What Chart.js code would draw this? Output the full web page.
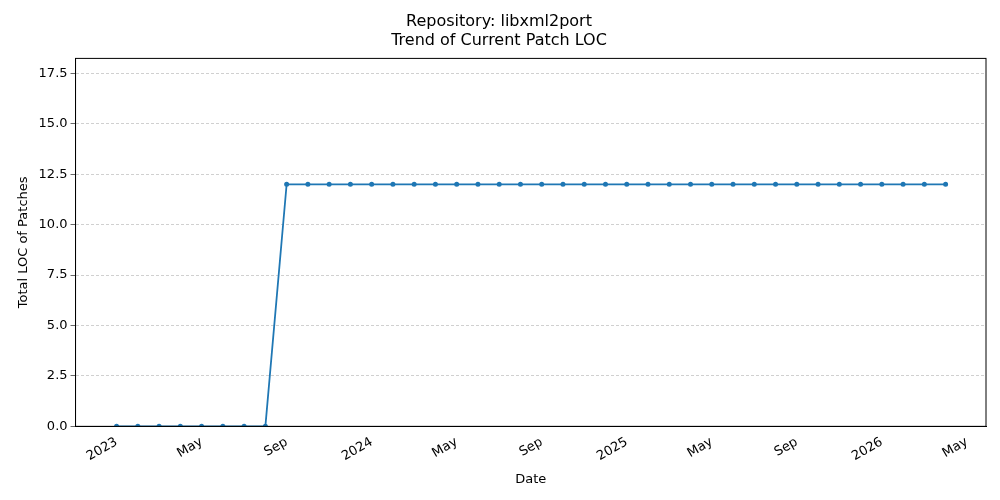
<!DOCTYPE html>
<html><head><meta charset="utf-8">
<script src="https://cdn.jsdelivr.net/npm/chart.js@4"></script>
<style>html,body{margin:0;background:#fff}#wrap{width:1000px;height:500px}</style>
</head><body><div id="wrap"><canvas id="c" width="1000" height="500"></canvas></div>
<script>
// months since Jan 2023
const months = ['2023-01','2023-02','2023-03','2023-04','2023-05','2023-06','2023-07','2023-08','2023-09','2023-10','2023-11','2023-12',
  '2024-01','2024-02','2024-03','2024-04','2024-05','2024-06','2024-07','2024-08','2024-09','2024-10','2024-11','2024-12',
  '2025-01','2025-02','2025-03','2025-04','2025-05','2025-06','2025-07','2025-08','2025-09','2025-10','2025-11','2025-12',
  '2026-01','2026-02','2026-03','2026-04'];
const locValues = [0,0,0,0,0,0,0,0,12,12,12,12,12,12,12,12,12,12,12,12,12,12,12,12,12,12,12,12,12,12,12,12,12,12,12,12,12,12,12,12];
const tickLabels = {0:'2023',4:'May',8:'Sep',12:'2024',16:'May',20:'Sep',24:'2025',28:'May',32:'Sep',36:'2026',40:'May'};
const yTicks = [0,2.5,5,7.5,10,12.5,15,17.5];

const points = locValues.map((v, i) => ({x: i, y: v}));
const font = {family: 'DejaVu Sans', size: 13};
Chart.defaults.color = '#000';

new Chart(document.getElementById('c'), {
  type: 'line',
  data: {datasets: [{
    data: points, borderColor: '#1f77b4', backgroundColor: '#1f77b4',
    borderWidth: 1.8, pointRadius: 1.6, pointHoverRadius: 1.6, tension: 0
  }]},
  options: {
    responsive: false, animation: false,
    layout: {padding: {left: 12, right: 14, top: 6, bottom: 9}},
    plugins: {
      legend: {display: false},
      title: {display: true, text: ['Repository: libxml2port', 'Trend of Current Patch LOC'],
        font: {family: 'DejaVu Sans', size: 16, weight: 'normal'}, color: '#000', padding: {top: 6, bottom: 8}}
    },
    scales: {
      x: {
        type: 'linear', min: -1.93, max: 40.9,
        afterBuildTicks: ax => { ax.ticks = Object.keys(tickLabels).map(k => ({value: +k})); },
        ticks: {font, maxRotation: 30, minRotation: 30, autoSkip: false,
          callback: v => tickLabels[v] ?? ''},
        grid: {display: false, drawTicks: true, tickLength: 5},
        border: {color: '#000'},
        title: {display: true, text: 'Date', font}
      },
      y: {
        min: 0, max: 18.24,
        afterBuildTicks: ax => { ax.ticks = yTicks.map(v => ({value: v})); },
        ticks: {font, callback: v => v.toFixed(1)},
        grid: {color: '#b0b0b0', lineWidth: 0.6, tickColor: '#000', tickLength: 5},
        border: {color: '#000', dash: [3, 2]},
        title: {display: true, text: 'Total LOC of Patches', font}
      }
    }
  },
  plugins: [{
    id: 'frame',
    afterDraw(chart) {
      const {ctx, chartArea: a} = chart;
      ctx.save(); ctx.strokeStyle = '#000'; ctx.lineWidth = 1; ctx.setLineDash([]);
      ctx.strokeRect(a.left, a.top, a.right - a.left, a.bottom - a.top);
      ctx.restore();
    }
  }]
});
</script></body></html>
